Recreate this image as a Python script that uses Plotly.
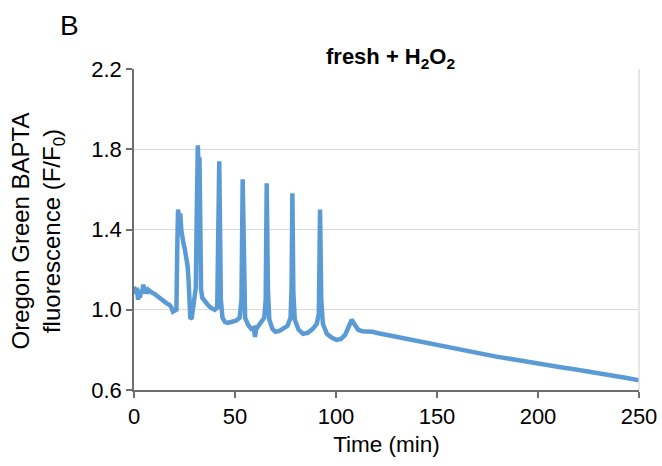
import plotly.graph_objects as go

time_min = [0, 0.5, 1.0, 1.5, 2.0, 2.5, 3.0, 3.5, 4.0, 4.6, 5.2, 5.8, 6.3, 7.0, 8.0, 9.0, 10.0,
            11.2, 12.5, 13.5, 14.5, 15.5, 16.5, 17.5, 18.6, 19.3, 20.2, 21.0, 21.4, 21.8, 22.2,
            22.6, 22.9, 23.4, 24.0, 24.5, 25.2, 25.8, 26.5, 27.0, 27.4, 27.9, 28.6, 29.3, 30.0,
            30.6, 31.1, 31.6, 32.0, 32.4, 32.8, 33.2, 33.8, 35.0, 36.5, 38.0, 40.0, 41.2, 41.8,
            42.2, 42.6, 43.0, 43.8, 45.0, 46.5, 48.5, 50.5, 52.3, 53.2, 53.8, 54.4, 55.0, 56.5,
            58.0, 59.3, 59.9, 60.5, 61.5, 62.5, 64.5, 65.2, 65.7, 66.3, 67.0, 68.5, 70.0, 72.0,
            74.0, 76.0, 77.5, 78.0, 78.4, 78.9, 79.6, 81.5, 83.7, 86.0, 88.5, 90.5, 91.5, 92.1,
            92.7, 93.5, 95.5, 98.0, 100.3, 102.5, 104.5, 106.5, 107.8, 109.0, 111.0, 113.0,
            115.2, 118.0, 121.0, 124.5, 128.4, 132.0, 136.0, 140.0, 144.0, 148.2, 152.0, 156.0,
            160.0, 164.0, 168.0, 174.0, 180.0, 186.0, 192.0, 197.0, 201.0, 206.0, 212.0, 218.0,
            225.7, 232.0, 238.0, 244.0, 250.0]

fluor = [1.115, 1.10, 1.08, 1.11, 1.05, 1.09, 1.06, 1.10, 1.08, 1.125, 1.09, 1.11, 1.08, 1.10,
         1.09, 1.085, 1.08, 1.07, 1.06, 1.055, 1.045, 1.04, 1.03, 1.025, 1.01, 0.99, 0.995, 1.00,
         1.30, 1.50, 1.47, 1.40, 1.48, 1.40, 1.35, 1.33, 1.30, 1.27, 1.22, 1.15, 0.98, 0.955,
         0.96, 1.02, 1.07, 1.11, 1.50, 1.82, 1.70, 1.76, 1.45, 1.10, 1.06, 1.04, 1.025, 1.01,
         1.00, 1.01, 1.30, 1.74, 1.40, 1.05, 0.96, 0.94, 0.935, 0.94, 0.945, 0.96, 1.05, 1.65,
         1.10, 0.96, 0.925, 0.905, 0.91, 0.865, 0.905, 0.92, 0.94, 0.96, 1.05, 1.63, 1.10, 0.95,
         0.905, 0.89, 0.895, 0.905, 0.92, 0.96, 1.10, 1.58, 1.08, 0.95, 0.90, 0.88, 0.885, 0.905,
         0.93, 0.98, 1.50, 1.05, 0.93, 0.88, 0.86, 0.85, 0.855, 0.875, 0.92, 0.95, 0.93, 0.90,
         0.893, 0.892, 0.89, 0.883, 0.876, 0.867, 0.86, 0.851, 0.843, 0.834, 0.826, 0.818,
         0.809, 0.801, 0.792, 0.784, 0.775, 0.765, 0.756, 0.745, 0.738, 0.731, 0.723, 0.712,
         0.703, 0.692, 0.681, 0.670, 0.660, 0.648]

x_ticks = [0, 50, 100, 150, 200, 250]
y_ticks = [0.6, 1.0, 1.4, 1.8, 2.2]
y_tick_labels = ["0.6", "1.0", "1.4", "1.8", "2.2"]

FONT = "Liberation Sans, Arial, sans-serif"
BLUE = "#5B9BD5"

fig = go.Figure()
fig.add_trace(go.Scatter(x=time_min, y=fluor, mode="lines",
                         line=dict(color=BLUE, width=4.5), showlegend=False))

fig.update_layout(
    width=662, height=466,
    margin=dict(l=134, r=23, t=69, b=76),
    paper_bgcolor="white", plot_bgcolor="white",
    font=dict(family=FONT, size=22, color="black"),
    xaxis=dict(range=[0, 250], tickvals=x_ticks, showgrid=False, zeroline=False,
               automargin=False,
               showline=True, linecolor="#6E6E6E", linewidth=1.5,
               ticks="outside", ticklen=6, tickcolor="#6E6E6E", tickwidth=1.5,
               title=dict(text="Time (min)", standoff=8, font=dict(size=22.5)),
               tickfont=dict(size=22)),
    yaxis=dict(range=[0.6, 2.2], tickvals=y_ticks, ticktext=y_tick_labels,
               automargin=False,
               showgrid=True, gridcolor="#D9D9D9", gridwidth=1.3, zeroline=False,
               showline=True, linecolor="#6E6E6E", linewidth=1.5,
               ticks="outside", ticklen=6, tickcolor="#6E6E6E", tickwidth=1.5,
               tickfont=dict(size=22)),
)

fig.add_shape(type="line", xref="paper", yref="paper", x0=1, x1=1, y0=0, y1=1,
              line=dict(color="#D9D9D9", width=1.3))

fig.add_annotation(text="Oregon Green BAPTA<br>fluorescence (F/F<sub>0</sub>)",
                   xref="paper", yref="paper", x=0, y=0.5, xshift=-97, yshift=-2,
                   textangle=-90, showarrow=False, font=dict(size=24),
                   xanchor="center", yanchor="middle")

fig.add_annotation(text="<b>fresh + H<sub>2</sub>O<sub>2</sub></b>",
                   xref="paper", yref="paper", x=0.493, y=1, xshift=8, yshift=-5,
                   xanchor="center", yanchor="bottom", showarrow=False,
                   font=dict(size=22))

fig.add_annotation(text="B", xref="paper", yref="paper", x=-0.1426, y=1.174,
                   xshift=-4, yshift=5,
                   xanchor="left", yanchor="top", showarrow=False,
                   font=dict(size=28))

fig.write_html("out.html")
